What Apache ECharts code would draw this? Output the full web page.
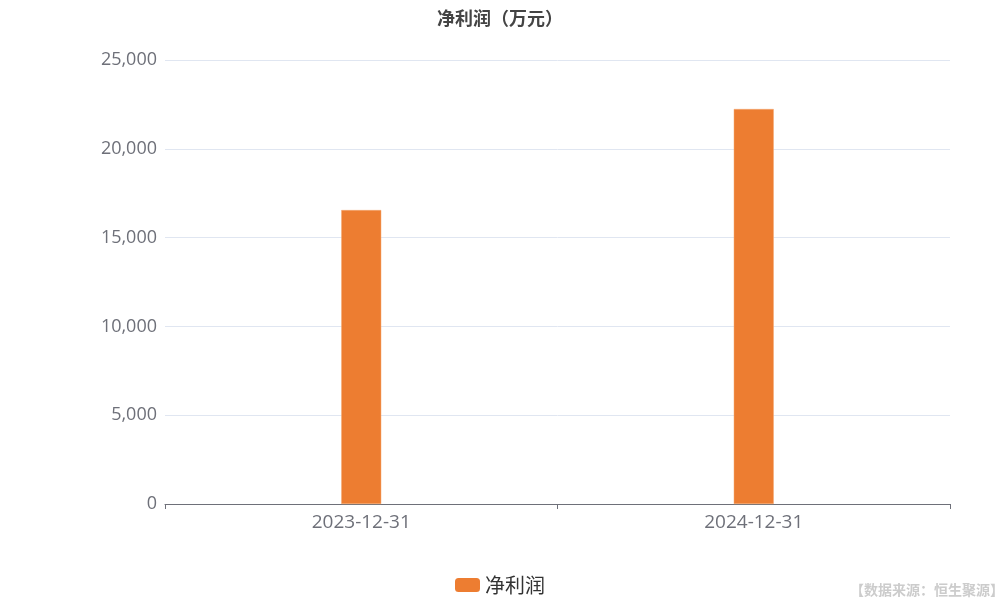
<!DOCTYPE html>
<html>
<head>
<meta charset="utf-8">
<script src="https://cdn.jsdelivr.net/npm/echarts@6/dist/echarts.min.js"></script>
<style>html,body{margin:0;padding:0;background:#fff;}#c{width:1000px;height:600px;}</style>
</head>
<body>
<div id="c"></div>
<script>
var categories = ['2023-12-31', '2024-12-31'];
var netProfit = [16550, 22240];
var seriesName = '净利润';
var titleText = '净利润（万元）';
var sourceText = '【数据来源：恒生聚源】';

var chart = echarts.init(document.getElementById('c'));
chart.setOption({
  animation: false,
  textStyle: { fontFamily: '"Open Sans", "Noto Sans CJK SC", sans-serif' },
  title: {
    text: titleText, left: 'center', top: 4,
    textStyle: { fontSize: 18, fontWeight: 'bold', color: '#444', fontFamily: '"Noto Sans CJK SC", sans-serif' }
  },
  grid: { left: 165, right: 50, top: 60, bottom: 96 },
  legend: {
    bottom: 0, left: 'center', itemWidth: 25, itemHeight: 14, itemGap: 10,
    icon: 'roundRect',
    itemStyle: { borderWidth: 0 },
    textStyle: { fontSize: 20, color: '#333', fontFamily: '"Noto Sans CJK SC", sans-serif' },
    data: [seriesName]
  },
  xAxis: {
    type: 'category', data: categories,
    axisLine: { lineStyle: { color: '#6E7079' } },
    axisTick: { show: true, alignWithLabel: false },
    axisLabel: { fontSize: 19, color: '#6E7079', margin: 9 }
  },
  yAxis: {
    type: 'value', min: 0, max: 25000, interval: 5000,
    axisLabel: { fontSize: 18, color: '#6E7079', margin: 8,
      formatter: function (v) { return v.toLocaleString('en-US'); } },
    splitLine: { lineStyle: { color: '#E0E6F1' } },
    axisLine: { show: false }, axisTick: { show: false }
  },
  series: [{
    name: seriesName, type: 'bar', data: netProfit, barWidth: 40,
    itemStyle: { color: '#ED7D31', borderColor: '#F4A872', borderWidth: 0.5 }
  }],
  graphic: [{
    type: 'text', right: -4, bottom: 3,
    style: { text: sourceText, fontSize: 14, fontWeight: 'bold', fill: '#ccc', fontFamily: '"Noto Sans CJK SC", sans-serif' }
  }]
});
</script>
</body>
</html>
